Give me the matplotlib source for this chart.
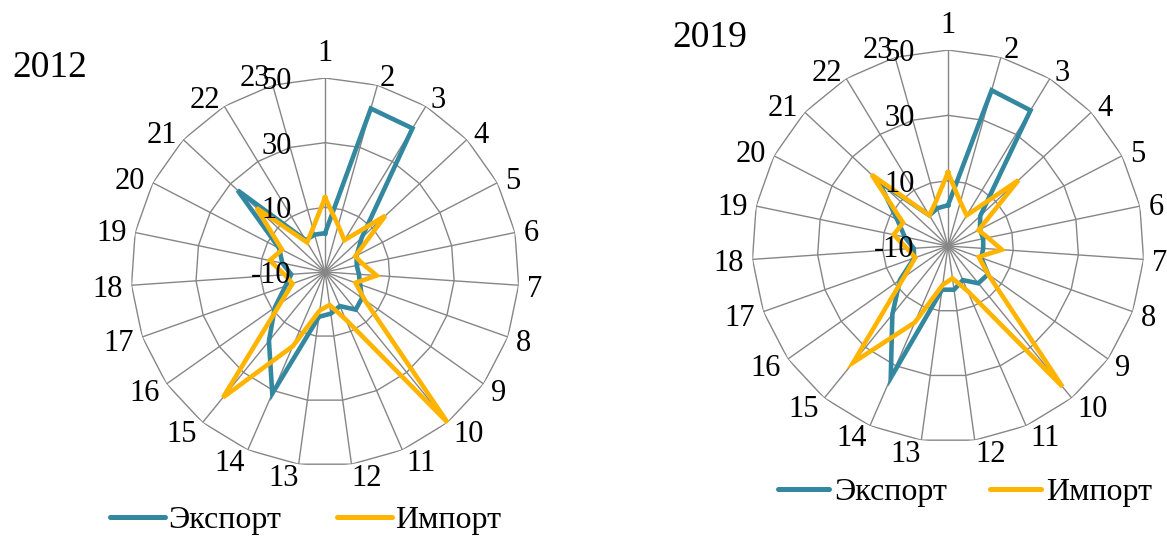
import numpy as np
import matplotlib
matplotlib.use("Agg")
import matplotlib.pyplot as plt
from matplotlib.lines import Line2D

# 23 product groups, shares
categories = [str(i) for i in range(1, 24)]
export_2012 = [2, 42.5, 42, 5.5, 1, 0, 0.5, 1.5, 4, 5, 1.5, 3, 4,
               31, 17.5, 9, 3, 0.5, 3.5, 6, 27, 1.5, 2]
import_2012 = [13, 5, 1.5, 15.5, 0.5, 2, 6, 0, 5, 50, 6, 0.3, 2,
               15, 40, 7, 0.7, 2.5, 7.5, 5, 19, 0.7, 4]
export_2019 = [2.5, 39.5, 38.6, 3.5, 1, 1, 0.8, 0.8, 5, 4.7, 1.4, 3.5, 3.5,
               34, 17, 8, 1, 0.5, 3.5, 7.5, 19, 1, 2]
import_2019 = [12.5, 4, 1, 19.5, 0.5, 2.5, 6.5, 0, 5, 45.5, 5, 0, 2,
               15.5, 36, 6.5, 0.6, 2.5, 7, 5.5, 22, 1, 4]
r_ticks = [-10, 10, 30, 50]
series_names = ["Экспорт", "Импорт"]

TEAL = "#33889F"
GOLD = "#FFB400"
GRID = "#868686"
FONT = "Liberation Serif"
FS = 22
PX = 0.72  # points per pixel at dpi 100


def label_offset(t, lab):
    # excel-like placement: box sits beside the spoke end
    s, c = np.sin(t), np.cos(t)
    half_w = 7.5 * len(lab)
    dx = half_w * np.clip(7 * s, -1, 1) + 9 * s
    dy = (10.5 + 17.5 * max(0.0, 1 - 7 * abs(s))) * c
    return dx * PX, dy * PX


def draw_radar(fig, rect, export, imports):
    ax = fig.add_axes(rect, projection="polar")
    n = len(categories)
    theta = np.linspace(0, 2 * np.pi, n, endpoint=False)
    closed = np.append(theta, theta[0])
    ax.set_theta_zero_location("N")
    ax.set_theta_direction(-1)
    ax.set_ylim(r_ticks[0], r_ticks[-1])
    ax.grid(False)
    ax.spines["polar"].set_visible(False)
    ax.set_xticks([])
    ax.set_yticks([])
    ax.patch.set_visible(False)

    # polygon rings and spokes, excel style
    for ring in r_ticks[1:]:
        ax.plot(closed, [ring] * (n + 1), color=GRID, lw=1.0, zorder=1)
    for t in theta:
        ax.plot([t, t], [r_ticks[0], r_ticks[-1]], color=GRID, lw=1.0, zorder=1)

    ax.plot(closed, list(export) + [export[0]], color=TEAL, lw=3.3,
            solid_joinstyle="miter", zorder=3, clip_on=False)
    ax.plot(closed, list(imports) + [imports[0]], color=GOLD, lw=3.3,
            solid_joinstyle="miter", zorder=4, clip_on=False)

    for v in r_ticks:
        ax.annotate(str(v), xy=(0, v), xytext=(-24, 0), textcoords="offset points",
                    ha="right", va="center_baseline", fontsize=FS, family=FONT,
                    zorder=5)

    for t, lab in zip(theta, categories):
        ax.annotate(lab, xy=(t, r_ticks[-1]), xytext=label_offset(t, lab),
                    textcoords="offset points", ha="center", va="center_baseline",
                    fontsize=FS, family=FONT)
    return ax


fig = plt.figure(figsize=(11.67, 5.36), dpi=100)
fig.patch.set_facecolor("white")

draw_radar(fig, [0.1123, 0.1306, 0.3325, 0.7239], export_2012, import_2012)
draw_radar(fig, [0.6444, 0.1754, 0.3359, 0.7313], export_2019, import_2019)

fig.text(12 / 1167, 1 - 77 / 536, "2012", fontsize=27, family=FONT, va="baseline")
fig.text(672 / 1167, 1 - 47 / 536, "2019", fontsize=27, family=FONT, va="baseline")

handles = [Line2D([], [], color=TEAL, lw=3.6, solid_capstyle="round"),
           Line2D([], [], color=GOLD, lw=3.6, solid_capstyle="round")]
legend_specs = [((306 / 1167, 1 - 520 / 536), 1.72, 0.1, 1.75),
                ((965 / 1167, 1 - 492 / 536), 1.6, 0.15, 1.35)]
for anchor, hlen, hpad, cspace in legend_specs:
    fig.legend(handles, series_names, loc="center", bbox_to_anchor=anchor, ncol=2,
               frameon=False, prop={"family": FONT, "size": 23}, handlelength=hlen,
               handletextpad=hpad, columnspacing=cspace, borderpad=0,
               borderaxespad=0)

fig.savefig("out.png", dpi=100, facecolor="white")
